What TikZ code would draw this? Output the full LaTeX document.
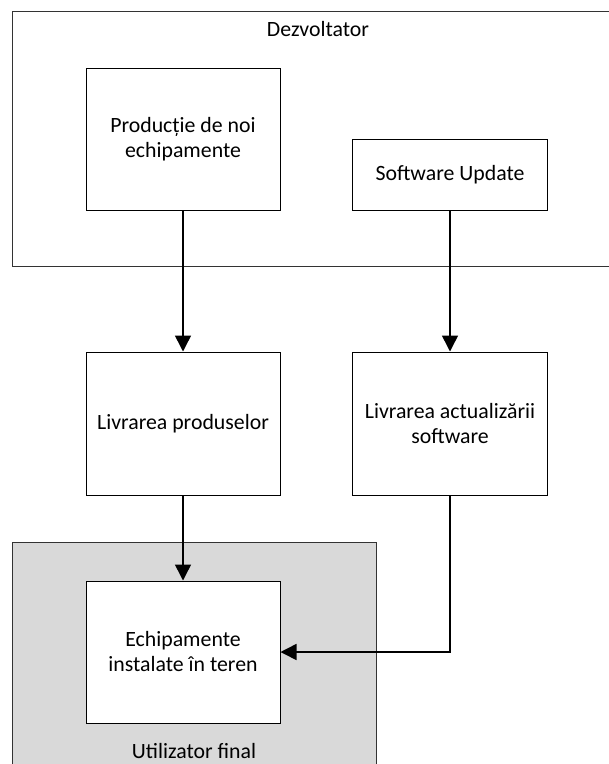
\documentclass[tikz,border=0pt]{standalone}
\usepackage{fontspec}
\setmainfont{Carlito}
\usetikzlibrary{arrows.meta}
\begin{document}
\begin{tikzpicture}[x=1pt,y=-1pt,
  every node/.style={font=\fontsize{21.8}{25}\selectfont},
  procbox/.style={draw=black, line width=1pt, fill=white, rectangle,
    minimum width=194pt, align=center, inner sep=0pt},
  flow/.style={draw=black, line width=1.5pt,
    -{Triangle[width=16pt,length=16pt]}},
  zone/.style={draw=black!80, line width=1pt}
]
\clip (0,0) rectangle (609,764);
\useasboundingbox (0,0) rectangle (609,764);

% developer area (open on the right)
\draw[zone, fill=white] (12.5,11) rectangle (625,266.5);
\node (dev) at (318,29) {Dezvoltator};

% end-user area (open at the bottom)
\draw[zone, fill=black!15] (12.5,542.5) rectangle (376.5,790);
\node (user) at (194,751) {Utilizator final};

% process boxes
\node[procbox, minimum height=142pt] (prod) at (183,139) {Producție de noi\\echipamente};
\node[procbox, minimum width=195pt, minimum height=71pt] (swu) at (450,174.5) {Software Update};
\node[procbox, minimum height=143pt] (livp) at (183,423.5) {Livrarea produselor};
\node[procbox, minimum width=195pt, minimum height=143pt] (livs) at (450,423.5) {Livrarea actualizării\\software};
\node[procbox, minimum height=142pt] (echip) at (183,652) {Echipamente\\instalate în teren};

% connectors
\draw[flow] (prod.south) -- (livp.north);
\draw[flow] (swu.south) -- (livs.north);
\draw[flow] (livp.south) -- (echip.north);
\draw[flow] (livs.south) |- (echip.east);
\end{tikzpicture}
\end{document}
